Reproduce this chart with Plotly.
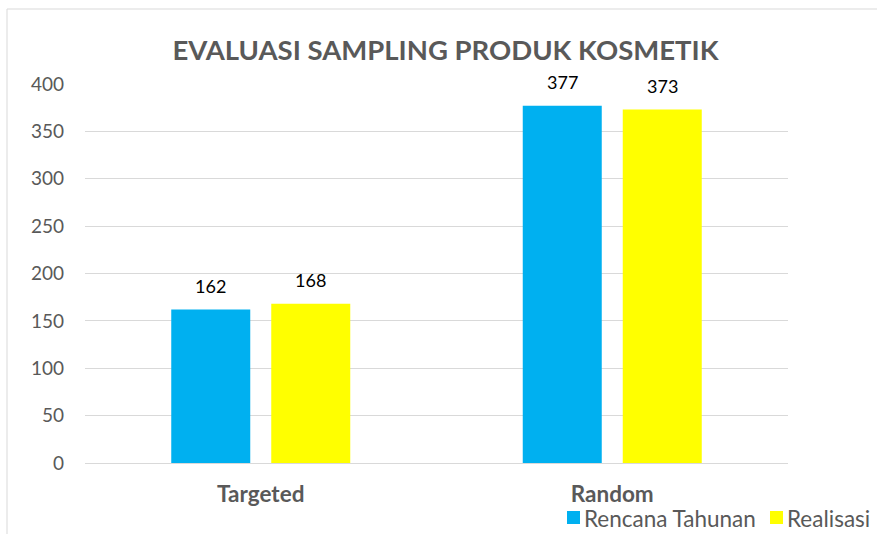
import plotly.graph_objects as go

categories = ["Targeted", "Random"]
rencana = [162, 377]
realisasi = [168, 373]
series_names = ["Rencana Tahunan", "Realisasi"]
title_text = "EVALUASI SAMPLING PRODUK KOSMETIK"

FONT = "Lato, Liberation Sans, sans-serif"
GRAY = "#595959"
COLORS = ["#00B0F0", "#FFFF00"]

# plot-area geometry in pixels (for converting layout positions to paper coords)
L, R, T, B = 85, 788, 84, 463
def px(x):
    return (x - L) / (R - L)
def py(y):
    return (B - y) / (B - T)

fig = go.Figure()
for name, vals, col in zip(series_names, [rencana, realisasi], COLORS):
    fig.add_trace(go.Bar(x=categories, y=vals, name=name, marker_color=col,
                         marker_line_width=0, showlegend=False))

# data labels placed above each bar
for i, vals in enumerate([rencana, realisasi]):
    for cat, v in zip(categories, vals):
        fig.add_annotation(x=cat, y=v, text=str(v), showarrow=False,
                           xshift=-50 if i == 0 else 50, yshift=24, yanchor="middle",
                           font=dict(color="#000000", size=18, family=FONT))

# legend (drawn as swatches + text)
legend_swatch_x = [567, 770]
for name, col, sx in zip(series_names, COLORS, legend_swatch_x):
    fig.add_shape(type="rect", xref="paper", yref="paper",
                  x0=px(sx), x1=px(sx + 13), y0=py(524), y1=py(511),
                  fillcolor=col, line=dict(width=0))
    fig.add_annotation(xref="paper", yref="paper", x=px(sx + 15), y=py(518),
                       xanchor="left", yanchor="middle", showarrow=False,
                       text=name, font=dict(size=22.5, color=GRAY, family=FONT))

fig.update_layout(
    width=877, height=534,
    margin=dict(l=L, r=877 - R, t=T, b=534 - B),
    paper_bgcolor="white", plot_bgcolor="white",
    barmode="group", bargap=0.431, bargroupgap=0.21,
    title=dict(text="<b>" + title_text + "</b>", x=(173 + 718) / 2 / 877, xanchor="center",
               y=1 - 50 / 534, yanchor="middle",
               font=dict(size=27.5, color=GRAY, family=FONT)),
    font=dict(family=FONT, color=GRAY, size=18),
    showlegend=False,
)
fig.update_yaxes(range=[0, 400], dtick=50, showgrid=True, gridcolor="#D9D9D9", gridwidth=1,
                 zeroline=False, showline=False, ticks="", ticklabelstandoff=20,
                 automargin=False,
                 tickfont=dict(size=19, color=GRAY, family=FONT))
fig.update_xaxes(showline=True, linecolor="#D9D9D9", linewidth=1, ticks="",
                 tickfont=dict(size=22.5, color=GRAY, family=FONT), ticklabelstandoff=11,
                 automargin=False,
                 tickvals=categories, ticktext=["<b>" + c + "</b>" for c in categories])

fig.add_shape(type="rect", xref="paper", yref="paper",
              x0=px(7), x1=1.3, y0=-0.4, y1=py(9),
              line=dict(color="#D9D9D9", width=1), fillcolor="rgba(0,0,0,0)", layer="below")

fig.write_html("out.html", config={"displayModeBar": False},
               post_script="document.body.style.margin='0px';")
